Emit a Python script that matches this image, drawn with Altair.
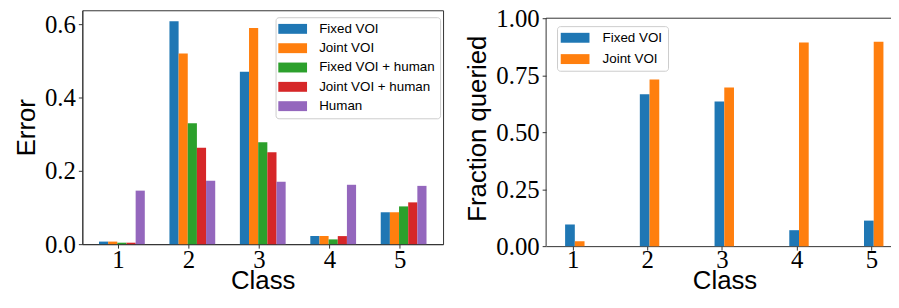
import altair as alt
import pandas as pd

classes = [1, 2, 3, 4, 5]

err_series = ["Fixed VOI", "Joint VOI", "Fixed VOI + human", "Joint VOI + human", "Human"]
err_fixed = [0.007, 0.608, 0.470, 0.022, 0.087]
err_joint = [0.007, 0.520, 0.590, 0.022, 0.087]
err_fixed_h = [0.004, 0.330, 0.278, 0.013, 0.103]
err_joint_h = [0.004, 0.263, 0.251, 0.022, 0.114]
err_human = [0.146, 0.173, 0.170, 0.162, 0.159]

q_series = ["Fixed VOI", "Joint VOI"]
q_fixed = [0.095, 0.666, 0.635, 0.070, 0.112]
q_joint = [0.021, 0.731, 0.696, 0.893, 0.897]

err_ticks = [0.0, 0.2, 0.4, 0.6]
q_ticks = [0.0, 0.25, 0.5, 0.75, 1.0]

colors = ["#1f77b4", "#ff7f0e", "#2ca02c", "#d62728", "#9467bd"]

rows = []
for i, (name, vals) in enumerate(zip(err_series, [err_fixed, err_joint, err_fixed_h, err_joint_h, err_human])):
    for c, v in zip(classes, vals):
        rows.append({"cls": c, "series": name, "idx": i, "value": v})
df_err = pd.DataFrame(rows)

rows = []
for i, (name, vals) in enumerate(zip(q_series, [q_fixed, q_joint])):
    for c, v in zip(classes, vals):
        rows.append({"cls": c, "series": name, "idx": i, "value": v})
df_q = pd.DataFrame(rows)

BAR_W = 0.13
swatch = "M-2.417,-0.833L2.417,-0.833L2.417,0.833L-2.417,0.833Z"
SPINE = "#333"

axis_common = dict(
    grid=False, tickSize=4, tickColor=SPINE, domainColor=SPINE,
    labelFont="Liberation Serif", labelFontSize=25, labelColor="#000",
    titleFont="Liberation Sans", titleFontSize=26, titleFontWeight="normal", titleColor="#000",
    labelOverlap=False,
)


def legend(x, y, lo, so, rp):
    return alt.Legend(
        title=None, orient="none", legendX=x, legendY=y,
        symbolType=swatch, symbolSize=144, symbolOffset=so, symbolStrokeWidth=0, symbolOpacity=1,
        labelOffset=lo, rowPadding=rp, padding=5,
        fillColor="rgba(255,255,255,0.8)", strokeColor="#cccccc", cornerRadius=3,
        labelFont="Liberation Sans", labelFontSize=13.5, labelColor="#000",
    )


left = alt.Chart(df_err).transform_calculate(
    x0=f"datum.cls - 0.27 + {BAR_W} * datum.idx",
    x1=f"datum.cls - 0.27 + {BAR_W} * (datum.idx + 1)",
).mark_bar().encode(
    x=alt.X("x0:Q", scale=alt.Scale(domain=[0.493, 5.615], nice=False, zero=False),
            axis=alt.Axis(values=classes, format="d", title="Class", labelPadding=0,
                          titleBaseline="alphabetic", titleY=44.5, **axis_common)),
    x2="x1:Q",
    y=alt.Y("value:Q", scale=alt.Scale(domain=[0, 0.638], nice=False),
            axis=alt.Axis(values=err_ticks, format=".1f", title="Error", labelPadding=3,
                          minExtent=40, titlePadding=3, **axis_common)),
    y2=alt.datum(0),
    color=alt.Color("series:N", scale=alt.Scale(domain=err_series, range=colors),
                    legend=legend(195, 7, 20, 5.5, 4.5)),
).properties(width=364, height=236, view=alt.ViewBackground(stroke=SPINE, strokeWidth=1))

RW, RH = 351, 238
q_scale_x = alt.Scale(domain=[0.646, 5.301], nice=False, zero=False)
q_scale_y = alt.Scale(domain=[0, 1.0348], nice=False)

q_bars = alt.Chart(df_q).transform_calculate(
    x0=f"datum.cls - 0.1 + {BAR_W} * datum.idx",
    x1=f"datum.cls - 0.1 + {BAR_W} * (datum.idx + 1)",
).mark_bar().encode(
    x=alt.X("x0:Q", scale=q_scale_x,
            axis=alt.Axis(values=classes, format="d", title="Class", labelPadding=-2,
                          titleBaseline="alphabetic", titleY=42.5, titleX=180, **axis_common)),
    x2="x1:Q",
    y=alt.Y("value:Q", scale=q_scale_y,
            axis=alt.Axis(values=q_ticks, format=".2f", title="Fraction queried", labelPadding=3,
                          titlePadding=5, domain=False, **axis_common)),
    y2=alt.datum(0),
    color=alt.Color("series:N", scale=alt.Scale(domain=q_series, range=colors[:2]),
                    legend=legend(11, 16, 21, 6.5, 6.5)),
)

top_spine = alt.Chart(pd.DataFrame({"v": [1.0]})).mark_rule(color=SPINE, strokeWidth=1).encode(
    y=alt.Y("v:Q", scale=q_scale_y), x=alt.value(0), x2=alt.value(RW)
)
left_spine = alt.Chart(pd.DataFrame({"v": [0.0], "v2": [1.0]})).mark_rule(color=SPINE, strokeWidth=1).encode(
    y=alt.Y("v:Q", scale=q_scale_y), y2="v2:Q", x=alt.value(0)
)

right = alt.layer(q_bars, top_spine, left_spine).properties(
    width=RW, height=RH, view=alt.ViewBackground(stroke="transparent")
)

chart = alt.hconcat(left, right, spacing=20).resolve_scale(color="independent").properties(
    autosize=alt.AutoSizeParams(type="none"),
    padding={"left": 75, "top": 1, "right": 816, "bottom": 286},
).configure_view(stroke=SPINE)

chart.save("out.html", embed_options={"renderer": "svg", "actions": False})
